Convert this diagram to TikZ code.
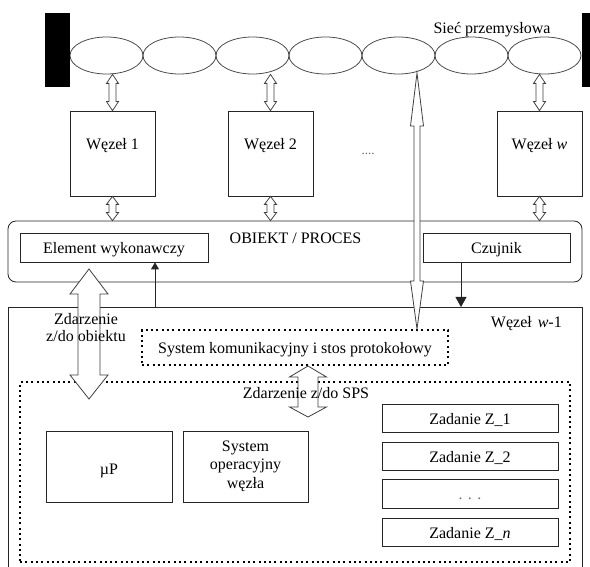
\documentclass[tikz,border=0pt]{standalone}
\usepackage{fontspec}
\setmainfont{Liberation Serif}
\usetikzlibrary{shapes.geometric,arrows.meta,calc}
\newcommand\hollowdbl[6]{%
  \draw[harrow] let \p1=(#1), \p2=(#2) in
    (\x1,\y1) -- (\x1+#4pt,\y1-#5pt) -- (\x1+#3pt,\y1-#5pt)
    -- (\x1+#3pt,\y2+#6pt) -- (\x1+#4pt,\y2+#6pt) -- (\x1,\y2)
    -- (\x1-#4pt,\y2+#6pt) -- (\x1-#3pt,\y2+#6pt)
    -- (\x1-#3pt,\y1-#5pt) -- (\x1-#4pt,\y1-#5pt) -- cycle;}
\begin{document}
\begin{tikzpicture}[x=1pt,y=-1pt,
  every node/.style={font=\fontsize{16}{17}\selectfont, inner sep=0pt},
  box/.style={draw=black!85, line width=0.8pt, inner sep=0pt},
  tbox/.style={text height=12pt, text depth=0pt},
  dotbox/.style={draw=black, line width=2pt, dash pattern=on 2pt off 3.3pt},
  oval/.style={ellipse, draw=black!70, line width=0.8pt, minimum width=73pt, minimum height=37pt, inner sep=0pt},
  bar/.style={fill=black, draw=none, minimum width=25pt, minimum height=74pt},
  harrow/.style={draw=black!75, line width=0.8pt, fill=white},
  actarrow/.style={draw=black!85, line width=0.8pt, -{Triangle[width=8pt,length=7pt]}},
  senarrow/.style={draw=black!85, line width=0.8pt, -{Triangle[width=11pt,length=10pt]}},
]
\useasboundingbox[fill=white] (0,0) rectangle (590,567);

% network
\foreach \i in {1,...,7} \node[oval] (e\i) at ({106.5+73*(\i-1)},55.5) {};
\node[bar] (barL) at (57.5,50) {};
\node[bar, minimum width=14pt] (barR) at (589,50) {};
\node[anchor=base] (net) at (492,34) {Sieć przemysłowa};

% nodes of the network
\node[box, minimum width=85pt, minimum height=85pt] (w1) at (112.5,153.5) {};
\node[box, minimum width=85pt, minimum height=85pt] (w2) at (270.5,153.5) {};
\node[box, minimum width=85pt, minimum height=85pt] (ww) at (539.5,153.5) {};
\node[anchor=base] (w1t) at (112.5,150) {Węzeł 1};
\node[anchor=base] (w2t) at (270.5,150) {Węzeł 2};
\node[anchor=base] (wwt) at (539.5,150) {Węzeł \textit{w}};
\node[anchor=base, text=black!60, font=\fontsize{13}{15}\selectfont] (dots) at (368,155) {....};

% object / process
\node[box, rounded corners=8pt, minimum width=574pt, minimum height=61pt] (obj) at (295,251.5) {};
\node[anchor=base] (objt) at (295.5,244) {OBIEKT / PROCES};
\node[box, tbox, minimum width=188pt, minimum height=29pt] (elem) at (114,247.5) {Element wykonawczy};
\node[box, tbox, minimum width=147pt, minimum height=29pt] (czuj) at (496.5,247.5) {Czujnik};

% node w-1
\node[box, anchor=north west, minimum width=574pt, minimum height=290pt] (wn1) at (8,307) {};
\node[anchor=base east] (wn1t) at (562,327) {Węzeł\hspace{6pt}\textit{w}-1};
\node[dotbox, tbox, minimum width=306pt, minimum height=35pt] (sysk) at (295,347.5) {System komunikacyjny i stos protokołowy};
\node[dotbox, minimum width=550pt, minimum height=180pt] (sps) at (295,472) {};

\node[box, minimum width=126pt, minimum height=71pt] (mup) at (109,466.5) {};
\node[anchor=base] (mupt) at (109,474) {µP};
\node[box, minimum width=125pt, minimum height=71pt] (sysop) at (245.5,466.5) {};
\node[align=center, font=\fontsize{16}{18.5}\selectfont] (sysopt) at (245.5,466) {System\\operacyjny\\węzła};

\node[box, tbox, minimum width=176pt, minimum height=28pt] (z1) at (470,418) {Zadanie Z\_1};
\node[box, tbox, minimum width=176pt, minimum height=28pt] (z2) at (470,456) {Zadanie Z\_2};
\node[box, tbox, minimum width=176pt, minimum height=29pt, text=black!55] (zd) at (470,493.5) {. . .};
\node[box, tbox, minimum width=176pt, minimum height=28pt] (zn) at (470,532) {Zadanie Z\_\textit{n}};

% connectors
\coordinate (netA) at (417,73);
\coordinate (evA) at (89,269);
\coordinate (evB) at (89,399);
\coordinate (spsA) at ([xshift=13pt]sysk.south);
\coordinate (spsB) at (308,417);
\coordinate (actA) at (155,307);
\coordinate (senA) at ([xshift=-35.5pt]czuj.south);

\hollowdbl{w1.north |- e1.south}{w1.north}{3.5}{6}{9}{9}
\hollowdbl{w2.north |- e3.south}{w2.north}{3.5}{6}{9}{9}
\hollowdbl{ww.north |- e7.south}{ww.north}{3.5}{6}{9}{9}
\hollowdbl{w1.south}{w1.south |- obj.north}{3.5}{6}{8}{8}
\hollowdbl{w2.south}{w2.south |- obj.north}{3.5}{6}{8}{8}
\hollowdbl{ww.south}{ww.south |- obj.north}{3.5}{6}{8}{8}
\hollowdbl{netA}{netA |- sysk.north}{3}{6.5}{53}{48}
\hollowdbl{evA}{evB}{11}{19}{25}{24}
\hollowdbl{spsA}{spsB}{10}{18.5}{11}{10}

\draw[actarrow] (actA) -- (actA |- elem.south);
\draw[senarrow] (senA) -- (senA |- wn1.north);

\node[align=center] (evt) at (86,328) {Zdarzenie\\z/do obiektu};
\node[anchor=base] (spst) at (306,398) {Zdarzenie z/do SPS};
\end{tikzpicture}
\end{document}
